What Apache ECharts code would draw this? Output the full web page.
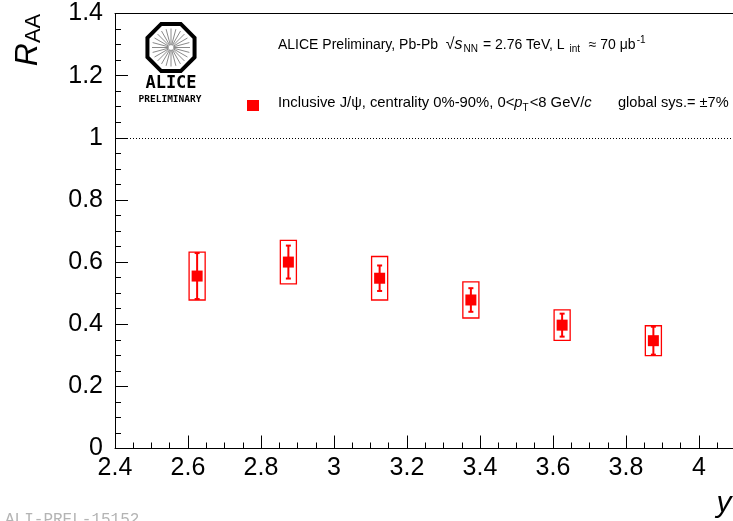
<!DOCTYPE html>
<html>
<head>
<meta charset="utf-8">
<script src="https://cdn.jsdelivr.net/npm/echarts@6/dist/echarts.min.js"></script>
<style>
  html, body { margin: 0; padding: 0; background: #ffffff; overflow: hidden; width: 733px; height: 521px; }
  /* the frame continues past the right edge of the window */
  #chart { width: 920px; height: 521px; }
</style>
</head>
<body>
<div id="chart"></div>
<script>
// J/psi nuclear modification factor versus rapidity, Pb-Pb 2.76 TeV
const rapidity = [2.625, 2.875, 3.125, 3.375, 3.625, 3.875];
const raa      = [0.555, 0.600, 0.548, 0.478, 0.397, 0.347];
const statErr  = [0.074, 0.053, 0.041, 0.038, 0.037, 0.045];
const sysErr   = [0.077, 0.070, 0.070, 0.058, 0.049, 0.048];
const sysHalfWidth = 0.022;   // half width (in rapidity) of the systematic boxes

const xTickLabels = ['2.4', '2.6', '2.8', '3', '3.2', '3.4', '3.6', '3.8', '4', '4.2', '4.4'];
const yTickLabels = ['0', '0.2', '0.4', '0.6', '0.8', '1', '1.2', '1.4'];

const FONT = "'Liberation Sans', Arial, Helvetica, sans-serif";
const RED = '#ff0000';

const points = rapidity.map((x, i) => [x, raa[i], statErr[i], sysErr[i]]);

function pickLabel(list, v) {
  const s = String(+(+v).toFixed(2));
  return list.includes(s) ? s : '';
}

function renderPoint(params, api) {
  const x = api.value(0), y = api.value(1), st = api.value(2), sy = api.value(3);
  const c = api.coord([x, y]);
  const boxTL = api.coord([x - sysHalfWidth, y + sy]);
  const boxBR = api.coord([x + sysHalfWidth, y - sy]);
  const top = api.coord([x, y + st]);
  const bot = api.coord([x, y - st]);
  const cap = 2.5, half = 5.5;
  return {
    type: 'group',
    children: [
      { type: 'rect',
        shape: { x: boxTL[0], y: boxTL[1], width: boxBR[0] - boxTL[0], height: boxBR[1] - boxTL[1] },
        style: { fill: 'none', stroke: RED, lineWidth: 1.3 } },
      { type: 'line', shape: { x1: c[0], y1: top[1], x2: c[0], y2: bot[1] },
        style: { stroke: RED, lineWidth: 2 } },
      { type: 'line', shape: { x1: c[0] - cap, y1: top[1], x2: c[0] + cap, y2: top[1] },
        style: { stroke: RED, lineWidth: 2 } },
      { type: 'line', shape: { x1: c[0] - cap, y1: bot[1], x2: c[0] + cap, y2: bot[1] },
        style: { stroke: RED, lineWidth: 2 } },
      { type: 'rect', shape: { x: c[0] - half, y: c[1] - half, width: 2 * half, height: 2 * half },
        style: { fill: RED } }
    ]
  };
}

// ALICE logo: octagon with rays
function logo(cx, cy) {
  const R = 25.5, pts = [];
  for (let k = 0; k < 8; k++) {
    const a = Math.PI / 8 + k * Math.PI / 4;
    pts.push([cx + R * Math.cos(a), cy + R * Math.sin(a)]);
  }
  const children = [
    { type: 'polygon', shape: { points: pts }, style: { fill: 'none', stroke: '#000', lineWidth: 4 } }
  ];
  const n = 24;
  for (let k = 0; k < n; k++) {
    const a = k * 2 * Math.PI / n;
    children.push({
      type: 'line',
      shape: { x1: cx + 2.5 * Math.cos(a), y1: cy + 2.5 * Math.sin(a),
               x2: cx + 19 * Math.cos(a), y2: cy + 19 * Math.sin(a) },
      style: { stroke: '#8a8a8a', lineWidth: 1 }
    });
  }
  return children;
}

const chart = echarts.init(document.getElementById('chart'), null, { renderer: 'canvas' });

const X_MIN = 2.4, X_MAX = 4.4, Y_MIN = 0, Y_MAX = 1.4;
const noLine = { show: false };

const option = {
  animation: false,
  backgroundColor: '#ffffff',
  grid: { left: 115, top: 13.5, width: 730, height: 435, containLabel: false, outerBoundsMode: 'none' },
  xAxis: [{
    // main bottom axis: labels and long ticks
    type: 'value', position: 'bottom', min: X_MIN, max: X_MAX, interval: 0.2,
    axisLine: { show: true, onZero: false, lineStyle: { color: '#000', width: 1 } },
    axisTick: { show: true, inside: true, length: 13, lineStyle: { color: '#000', width: 1 } },
    splitLine: { show: false },
    axisLabel: { margin: 7, color: '#000', fontFamily: FONT, fontSize: 25,
                 formatter: v => pickLabel(xTickLabels, v) }
  }, {
    // frame top edge
    type: 'value', position: 'top', min: X_MIN, max: X_MAX, interval: 0.2,
    axisLine: { show: true, onZero: false, lineStyle: { color: '#000', width: 1 } },
    axisTick: { show: false }, axisLabel: { show: false }, splitLine: { show: false }
  }, {
    // short inward ticks every 0.05
    type: 'value', position: 'bottom', min: X_MIN, max: X_MAX, interval: 0.05,
    axisLine: noLine,
    axisTick: { show: true, inside: true, length: 6, lineStyle: { color: '#000', width: 1 } },
    axisLabel: { show: false }, splitLine: { show: false }
  }],
  yAxis: [{
    type: 'value', position: 'left', min: Y_MIN, max: Y_MAX, interval: 0.2,
    axisLine: { show: true, onZero: false, lineStyle: { color: '#000', width: 1 } },
    axisTick: { show: true, inside: true, length: 13, lineStyle: { color: '#000', width: 1 } },
    splitLine: { show: false },
    axisLabel: { margin: 12, color: '#000', fontFamily: FONT, fontSize: 25,
                 formatter: v => pickLabel(yTickLabels, v) }
  }, {
    type: 'value', position: 'left', min: Y_MIN, max: Y_MAX, interval: 0.05,
    axisLine: noLine,
    axisTick: { show: true, inside: true, length: 6, lineStyle: { color: '#000', width: 1 } },
    axisLabel: { show: false }, splitLine: { show: false }
  }],
  series: [{
    type: 'custom',
    name: 'Inclusive J/psi',
    xAxisIndex: 0, yAxisIndex: 0,
    data: points,
    renderItem: renderPoint,
    clip: false,
    markLine: {
      silent: true, symbol: ['none', 'none'],
      label: { show: false },
      lineStyle: { color: '#000', width: 1, type: [1, 2] },
      data: [{ yAxis: 1 }]
    }
  }],
  graphic: [
    ...logo(171, 47.5),
    { type: 'text', x: 171, y: 83.5,
      style: { text: 'ALICE', fontFamily: "'DejaVu Sans Mono', monospace", fontWeight: 'bold',
               fontSize: 17, fill: '#000', align: 'center', verticalAlign: 'middle' } },
    { type: 'text', x: 170, y: 100,
      style: { text: 'PRELIMINARY', fontFamily: "'DejaVu Sans Mono', monospace", fontWeight: 'bold',
               fontSize: 9.5, fill: '#000', align: 'center', verticalAlign: 'middle' } },
    // Collision system line
    { type: 'text', x: 278, y: 45,
      style: {
        text: 'ALICE Preliminary, Pb-Pb  {sq|√}{it|s}{sub|NN} = 2.76 TeV, L {sub|int}  ≈ 70 μb{sup|-1}',
        fontFamily: FONT, fontSize: 14, fill: '#000', verticalAlign: 'middle',
        rich: {
          sq: { fontFamily: FONT, fontSize: 16, fill: '#000' },
          it: { fontFamily: FONT, fontSize: 16, fontStyle: 'italic', fill: '#000' },
          sub: { fontFamily: FONT, fontSize: 10, fill: '#000', padding: [9, 1, 0, 1] },
          sup: { fontFamily: FONT, fontSize: 10, fill: '#000', padding: [0, 0, 9, 1] }
        }
      } },
    // Legend entry
    { type: 'rect', shape: { x: 247, y: 100, width: 12, height: 11 }, style: { fill: RED } },
    { type: 'text', x: 278, y: 103,
      style: {
        text: 'Inclusive J/ψ, centrality 0%-90%, 0<{it|p}{sub|T}<8 GeV/{it|c}',
        fontFamily: FONT, fontSize: 14.8, fill: '#000', verticalAlign: 'middle',
        rich: {
          it: { fontFamily: FONT, fontSize: 14.8, fontStyle: 'italic', fill: '#000' },
          sub: { fontFamily: FONT, fontSize: 10, fill: '#000', padding: [10, 1, 0, 0] }
        }
      } },
    { type: 'text', x: 618, y: 103,
      style: { text: 'global sys.= ±7%', fontFamily: FONT, fontSize: 14.6, fill: '#000', verticalAlign: 'middle' } },
    // Axis titles
    { type: 'text', x: 28, y: 40, rotation: Math.PI / 2,
      style: {
        text: '{r|R}{s|AA}', align: 'center', verticalAlign: 'middle',
        rich: {
          r: { fontFamily: FONT, fontSize: 32, fontStyle: 'italic', fill: '#000' },
          s: { fontFamily: FONT, fontSize: 22, fill: '#000', padding: [12, 0, 0, 0] }
        }
      } },
    { type: 'text', x: 724, y: 504,
      style: { text: 'y', fontFamily: FONT, fontSize: 30, fontStyle: 'italic', fill: '#000',
               align: 'center', verticalAlign: 'middle' } },
    // Figure identifier
    { type: 'text', x: 5, y: 519.5,
      style: { text: 'ALI-PREL-15152', fontFamily: "'Liberation Mono', 'DejaVu Sans Mono', monospace",
               fontSize: 16, fill: '#b4b4b4', verticalAlign: 'middle' } }
  ]
};

chart.setOption(option);
</script>
</body>
</html>
